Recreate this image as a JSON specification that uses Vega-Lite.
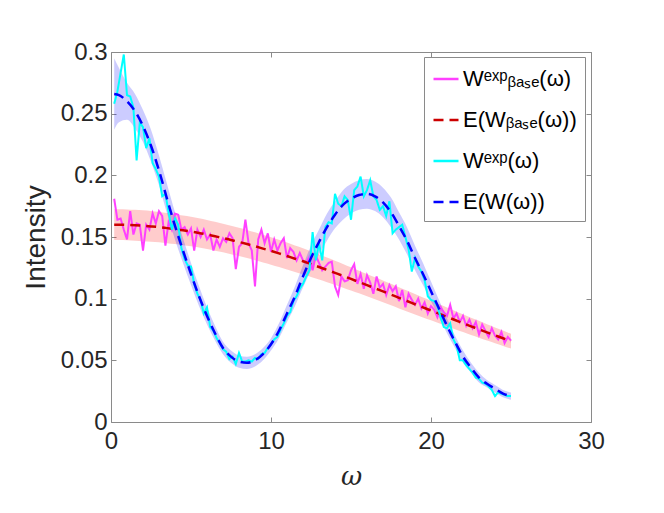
{
  "$schema": "https://vega.github.io/schema/vega-lite/v6.json",
  "width": 480,
  "height": 370,
  "autosize": {"type": "none"},
  "padding": {"left": 111, "top": 52, "right": 73, "bottom": 91},
  "background": "white",
  "config": {
    "font": "Liberation Sans",
    "view": {"stroke": null},
    "axis": {
      "grid": false,
      "domainColor": "#8a8a8a",
      "tickColor": "#8a8a8a",
      "labelColor": "#262626",
      "titleColor": "#262626",
      "labelFont": "Liberation Sans",
      "titleFont": "Liberation Sans",
      "labelFontSize": 24,
      "titleFontSize": 28,
      "titleFontWeight": "normal",
      "tickSize": -5,
      "labelFlush": false,
      "labelOverlap": false
    },
    "legend": {
      "orient": "none",
      "legendX": 313,
      "legendY": 5,
      "strokeColor": "#8a8a8a",
      "fillColor": "white",
      "padding": 8,
      "symbolType": "stroke",
      "symbolSize": 625,
      "symbolStrokeWidth": 2.5,
      "labelFont": "Liberation Sans",
      "labelFontSize": 22,
      "labelColor": "#000000",
      "rowPadding": 16,
      "labelOffset": 3,
      "labelLimit": 300
    }
  },
  "datasets": {
    "raw": [
      {"w":0.2,"base":0.181,"wexp":0.258},{"w":0.4,"base":0.164,"wexp":0.268},{"w":0.6,"base":0.165,"wexp":0.283},{"w":0.8,"base":0.156,"wexp":0.298},{"w":1.0,"base":0.148,"wexp":0.265},
      {"w":1.2,"base":0.171,"wexp":0.264},{"w":1.4,"base":0.152,"wexp":0.255},{"w":1.6,"base":0.161,"wexp":0.212},{"w":1.8,"base":0.160,"wexp":0.243},{"w":2.0,"base":0.139,"wexp":0.239},
      {"w":2.2,"base":0.160,"wexp":0.222},{"w":2.4,"base":0.156,"wexp":0.230},{"w":2.6,"base":0.169,"wexp":0.210},{"w":2.8,"base":0.161,"wexp":0.205},{"w":3.0,"base":0.171,"wexp":0.199},
      {"w":3.2,"base":0.167,"wexp":0.183},{"w":3.4,"base":0.143,"wexp":0.185},{"w":3.6,"base":0.162,"wexp":0.170},{"w":3.8,"base":0.156,"wexp":0.156},{"w":4.0,"base":0.169,"wexp":0.165},
      {"w":4.2,"base":0.168,"wexp":0.160},{"w":4.4,"base":0.156,"wexp":0.141},{"w":4.6,"base":0.158,"wexp":0.132},{"w":4.8,"base":0.152,"wexp":0.127},{"w":5.0,"base":0.157,"wexp":0.126},
      {"w":5.2,"base":0.139,"wexp":0.112},{"w":5.4,"base":0.156,"wexp":0.104},{"w":5.6,"base":0.150,"wexp":0.099},{"w":5.8,"base":0.156,"wexp":0.088},{"w":6.0,"base":0.148,"wexp":0.093},
      {"w":6.2,"base":0.152,"wexp":0.077},{"w":6.4,"base":0.139,"wexp":0.074},{"w":6.6,"base":0.148,"wexp":0.068},{"w":6.8,"base":0.142,"wexp":0.064},{"w":7.0,"base":0.149,"wexp":0.059},
      {"w":7.2,"base":0.146,"wexp":0.057},{"w":7.4,"base":0.153,"wexp":0.051},{"w":7.6,"base":0.149,"wexp":0.053},{"w":7.8,"base":0.124,"wexp":0.047},{"w":8.0,"base":0.142,"wexp":0.056},
      {"w":8.2,"base":0.145,"wexp":0.049},{"w":8.4,"base":0.164,"wexp":0.049},{"w":8.6,"base":0.145,"wexp":0.050},{"w":8.8,"base":0.139,"wexp":0.049},{"w":9.0,"base":0.110,"wexp":0.052},
      {"w":9.2,"base":0.148,"wexp":0.051},{"w":9.4,"base":0.156,"wexp":0.055},{"w":9.6,"base":0.145,"wexp":0.056},{"w":9.8,"base":0.153,"wexp":0.060},{"w":10.0,"base":0.138,"wexp":0.063},
      {"w":10.2,"base":0.148,"wexp":0.067},{"w":10.4,"base":0.139,"wexp":0.069},{"w":10.6,"base":0.145,"wexp":0.075},{"w":10.8,"base":0.149,"wexp":0.080},{"w":11.0,"base":0.133,"wexp":0.086},
      {"w":11.2,"base":0.141,"wexp":0.089},{"w":11.4,"base":0.138,"wexp":0.098},{"w":11.6,"base":0.131,"wexp":0.102},{"w":11.8,"base":0.137,"wexp":0.108},{"w":12.0,"base":0.131,"wexp":0.112},
      {"w":12.2,"base":0.129,"wexp":0.118},{"w":12.4,"base":0.134,"wexp":0.123},{"w":12.6,"base":0.123,"wexp":0.154},{"w":12.8,"base":0.135,"wexp":0.131},{"w":13.0,"base":0.129,"wexp":0.145},
      {"w":13.2,"base":0.123,"wexp":0.131},{"w":13.4,"base":0.126,"wexp":0.158},{"w":13.6,"base":0.129,"wexp":0.162},{"w":13.8,"base":0.130,"wexp":0.161},{"w":14.0,"base":0.110,"wexp":0.185},
      {"w":14.2,"base":0.103,"wexp":0.177},{"w":14.4,"base":0.118,"wexp":0.175},{"w":14.6,"base":0.114,"wexp":0.183},{"w":14.8,"base":0.115,"wexp":0.180},{"w":15.0,"base":0.123,"wexp":0.164},
      {"w":15.2,"base":0.128,"wexp":0.188},{"w":15.4,"base":0.112,"wexp":0.191},{"w":15.6,"base":0.120,"wexp":0.199},{"w":15.8,"base":0.108,"wexp":0.183},{"w":16.0,"base":0.119,"wexp":0.188},
      {"w":16.2,"base":0.113,"wexp":0.196},{"w":16.4,"base":0.104,"wexp":0.183},{"w":16.6,"base":0.118,"wexp":0.180},{"w":16.8,"base":0.109,"wexp":0.172},{"w":17.0,"base":0.112,"wexp":0.175},
      {"w":17.2,"base":0.103,"wexp":0.167},{"w":17.4,"base":0.111,"wexp":0.179},{"w":17.6,"base":0.106,"wexp":0.153},{"w":17.8,"base":0.110,"wexp":0.156},{"w":18.0,"base":0.098,"wexp":0.158},
      {"w":18.2,"base":0.107,"wexp":0.160},{"w":18.4,"base":0.093,"wexp":0.150},{"w":18.6,"base":0.104,"wexp":0.140},{"w":18.8,"base":0.099,"wexp":0.122},{"w":19.0,"base":0.095,"wexp":0.133},
      {"w":19.2,"base":0.100,"wexp":0.126},{"w":19.4,"base":0.092,"wexp":0.122},{"w":19.6,"base":0.097,"wexp":0.115},{"w":19.8,"base":0.088,"wexp":0.102},{"w":20.0,"base":0.094,"wexp":0.099},
      {"w":20.2,"base":0.091,"wexp":0.098},{"w":20.4,"base":0.085,"wexp":0.094},{"w":20.6,"base":0.093,"wexp":0.085},{"w":20.8,"base":0.089,"wexp":0.077},{"w":21.0,"base":0.086,"wexp":0.076},
      {"w":21.2,"base":0.095,"wexp":0.080},{"w":21.4,"base":0.084,"wexp":0.067},{"w":21.6,"base":0.088,"wexp":0.062},{"w":21.8,"base":0.081,"wexp":0.050},{"w":22.0,"base":0.086,"wexp":0.050},
      {"w":22.2,"base":0.078,"wexp":0.046},{"w":22.4,"base":0.083,"wexp":0.043},{"w":22.6,"base":0.076,"wexp":0.040},{"w":22.8,"base":0.081,"wexp":0.036},{"w":23.0,"base":0.071,"wexp":0.035},
      {"w":23.2,"base":0.079,"wexp":0.032},{"w":23.4,"base":0.074,"wexp":0.031},{"w":23.6,"base":0.069,"wexp":0.029},{"w":23.8,"base":0.076,"wexp":0.026},{"w":24.0,"base":0.070,"wexp":0.021},
      {"w":24.2,"base":0.067,"wexp":0.024},{"w":24.4,"base":0.073,"wexp":0.023},{"w":24.6,"base":0.064,"wexp":0.022},{"w":24.8,"base":0.069,"wexp":0.021},{"w":25.0,"base":0.066,"wexp":0.021}
    ],
    "mean": [
      {"w":0.2,"ebase":0.1600,"blo":0.1475,"bhi":0.1725,"ew":0.266,"wlo":0.237,"whi":0.295},
      {"w":0.5,"ebase":0.1600,"blo":0.1475,"bhi":0.1725,"ew":0.265,"wlo":0.243,"whi":0.287},
      {"w":1.0,"ebase":0.1598,"blo":0.1473,"bhi":0.1723,"ew":0.260,"wlo":0.245,"whi":0.275},
      {"w":1.5,"ebase":0.1595,"blo":0.1470,"bhi":0.1720,"ew":0.252,"wlo":0.238,"whi":0.266},
      {"w":2.0,"ebase":0.1591,"blo":0.1466,"bhi":0.1716,"ew":0.240,"wlo":0.227,"whi":0.253},
      {"w":2.5,"ebase":0.1586,"blo":0.1462,"bhi":0.1710,"ew":0.224,"wlo":0.211,"whi":0.237},
      {"w":3.0,"ebase":0.1580,"blo":0.1457,"bhi":0.1703,"ew":0.204,"wlo":0.192,"whi":0.216},
      {"w":3.5,"ebase":0.1572,"blo":0.1450,"bhi":0.1694,"ew":0.181,"wlo":0.169,"whi":0.193},
      {"w":4.0,"ebase":0.1564,"blo":0.1443,"bhi":0.1685,"ew":0.159,"wlo":0.148,"whi":0.170},
      {"w":4.5,"ebase":0.1554,"blo":0.1434,"bhi":0.1674,"ew":0.139,"wlo":0.129,"whi":0.149},
      {"w":5.0,"ebase":0.1544,"blo":0.1424,"bhi":0.1664,"ew":0.120,"wlo":0.111,"whi":0.129},
      {"w":5.5,"ebase":0.1533,"blo":0.1414,"bhi":0.1652,"ew":0.102,"wlo":0.094,"whi":0.110},
      {"w":6.0,"ebase":0.1520,"blo":0.1402,"bhi":0.1638,"ew":0.086,"wlo":0.079,"whi":0.093},
      {"w":6.5,"ebase":0.1506,"blo":0.1389,"bhi":0.1623,"ew":0.072,"wlo":0.066,"whi":0.078},
      {"w":7.0,"ebase":0.1492,"blo":0.1376,"bhi":0.1608,"ew":0.060,"wlo":0.055,"whi":0.065},
      {"w":7.5,"ebase":0.1476,"blo":0.1361,"bhi":0.1591,"ew":0.053,"wlo":0.048,"whi":0.058},
      {"w":8.0,"ebase":0.1460,"blo":0.1345,"bhi":0.1575,"ew":0.049,"wlo":0.044,"whi":0.054},
      {"w":8.5,"ebase":0.1443,"blo":0.1329,"bhi":0.1557,"ew":0.048,"wlo":0.043,"whi":0.053},
      {"w":9.0,"ebase":0.1425,"blo":0.1312,"bhi":0.1538,"ew":0.050,"wlo":0.045,"whi":0.055},
      {"w":9.5,"ebase":0.1406,"blo":0.1294,"bhi":0.1518,"ew":0.055,"wlo":0.050,"whi":0.060},
      {"w":10.0,"ebase":0.1387,"blo":0.1276,"bhi":0.1498,"ew":0.063,"wlo":0.058,"whi":0.068},
      {"w":10.5,"ebase":0.1367,"blo":0.1257,"bhi":0.1477,"ew":0.074,"wlo":0.068,"whi":0.080},
      {"w":11.0,"ebase":0.1346,"blo":0.1237,"bhi":0.1455,"ew":0.088,"wlo":0.081,"whi":0.095},
      {"w":11.5,"ebase":0.1324,"blo":0.1217,"bhi":0.1431,"ew":0.102,"wlo":0.094,"whi":0.110},
      {"w":12.0,"ebase":0.1303,"blo":0.1197,"bhi":0.1409,"ew":0.118,"wlo":0.109,"whi":0.127},
      {"w":12.5,"ebase":0.1280,"blo":0.1176,"bhi":0.1384,"ew":0.133,"wlo":0.123,"whi":0.143},
      {"w":13.0,"ebase":0.1257,"blo":0.1155,"bhi":0.1359,"ew":0.146,"wlo":0.136,"whi":0.156},
      {"w":13.5,"ebase":0.1233,"blo":0.1133,"bhi":0.1333,"ew":0.158,"wlo":0.147,"whi":0.169},
      {"w":14.0,"ebase":0.1209,"blo":0.1111,"bhi":0.1307,"ew":0.168,"wlo":0.157,"whi":0.179},
      {"w":14.5,"ebase":0.1185,"blo":0.1089,"bhi":0.1281,"ew":0.176,"wlo":0.164,"whi":0.188},
      {"w":15.0,"ebase":0.1160,"blo":0.1066,"bhi":0.1254,"ew":0.181,"wlo":0.169,"whi":0.193},
      {"w":15.5,"ebase":0.1135,"blo":0.1043,"bhi":0.1227,"ew":0.184,"wlo":0.172,"whi":0.196},
      {"w":16.0,"ebase":0.1110,"blo":0.1020,"bhi":0.1200,"ew":0.185,"wlo":0.173,"whi":0.197},
      {"w":16.5,"ebase":0.1084,"blo":0.0995,"bhi":0.1173,"ew":0.183,"wlo":0.171,"whi":0.195},
      {"w":17.0,"ebase":0.1059,"blo":0.0971,"bhi":0.1147,"ew":0.178,"wlo":0.166,"whi":0.190},
      {"w":17.5,"ebase":0.1033,"blo":0.0946,"bhi":0.1120,"ew":0.170,"wlo":0.158,"whi":0.182},
      {"w":18.0,"ebase":0.1007,"blo":0.0921,"bhi":0.1093,"ew":0.159,"wlo":0.148,"whi":0.170},
      {"w":18.5,"ebase":0.0981,"blo":0.0896,"bhi":0.1066,"ew":0.147,"wlo":0.136,"whi":0.158},
      {"w":19.0,"ebase":0.0955,"blo":0.0872,"bhi":0.1038,"ew":0.133,"wlo":0.123,"whi":0.143},
      {"w":19.5,"ebase":0.0929,"blo":0.0848,"bhi":0.1010,"ew":0.120,"wlo":0.111,"whi":0.129},
      {"w":20.0,"ebase":0.0904,"blo":0.0824,"bhi":0.0984,"ew":0.106,"wlo":0.098,"whi":0.114},
      {"w":20.5,"ebase":0.0878,"blo":0.0800,"bhi":0.0956,"ew":0.092,"wlo":0.085,"whi":0.099},
      {"w":21.0,"ebase":0.0852,"blo":0.0776,"bhi":0.0928,"ew":0.078,"wlo":0.072,"whi":0.084},
      {"w":21.5,"ebase":0.0827,"blo":0.0753,"bhi":0.0901,"ew":0.065,"wlo":0.060,"whi":0.070},
      {"w":22.0,"ebase":0.0801,"blo":0.0729,"bhi":0.0873,"ew":0.053,"wlo":0.048,"whi":0.058},
      {"w":22.5,"ebase":0.0776,"blo":0.0706,"bhi":0.0846,"ew":0.044,"wlo":0.040,"whi":0.048},
      {"w":23.0,"ebase":0.0752,"blo":0.0684,"bhi":0.0820,"ew":0.036,"wlo":0.032,"whi":0.040},
      {"w":23.5,"ebase":0.0727,"blo":0.0661,"bhi":0.0793,"ew":0.031,"wlo":0.028,"whi":0.034},
      {"w":24.0,"ebase":0.0703,"blo":0.0639,"bhi":0.0767,"ew":0.027,"wlo":0.024,"whi":0.030},
      {"w":24.5,"ebase":0.0679,"blo":0.0617,"bhi":0.0741,"ew":0.023,"wlo":0.020,"whi":0.026},
      {"w":25.0,"ebase":0.0655,"blo":0.0595,"bhi":0.0715,"ew":0.021,"wlo":0.018,"whi":0.024}
    ]
  },
  "resolve": {"axis": {"x": "independent", "y": "independent"}},
  "layer": [
    {
      "data": {"name": "mean"},
      "mark": {"type": "area", "color": "#ff0000", "opacity": 0.2, "interpolate": "monotone"},
      "encoding": {
        "x": {"field": "w", "type": "quantitative", "scale": {"domain": [0, 30], "nice": false},
              "axis": {"orient": "bottom", "values": [0, 10, 20, 30], "title": "ω", "titleFont": "DejaVu Serif", "titleFontStyle": "italic", "titleFontSize": 26, "labelPadding": 12, "titlePadding": 10}},
        "y": {"field": "blo", "type": "quantitative", "scale": {"domain": [0, 0.3], "nice": false},
              "axis": {"orient": "left", "values": [0, 0.05, 0.1, 0.15, 0.2, 0.25, 0.3], "format": "~g", "title": "Intensity", "labelPadding": 9, "titlePadding": 10}},
        "y2": {"field": "bhi"}
      }
    },
    {
      "data": {"name": "mean"},
      "mark": {"type": "area", "color": "#0000ff", "opacity": 0.2, "interpolate": "monotone"},
      "encoding": {
        "x": {"field": "w", "type": "quantitative", "axis": {"orient": "top", "values": [0, 10, 20, 30], "labels": false, "title": null}},
        "y": {"field": "wlo", "type": "quantitative", "axis": {"orient": "right", "values": [0, 0.05, 0.1, 0.15, 0.2, 0.25, 0.3], "labels": false, "title": null}},
        "y2": {"field": "whi"}
      }
    },
    {
      "data": {"name": "raw"},
      "mark": {"type": "line", "strokeWidth": 2},
      "encoding": {
        "x": {"field": "w", "type": "quantitative", "axis": null},
        "y": {"field": "base", "type": "quantitative", "axis": null},
        "color": {"datum": "base_exp", "type": "nominal",
                  "scale": {"domain": ["base_exp", "base_mean", "w_exp", "w_mean"], "range": ["#ff40ff", "#cc0000", "#00ffff", "#0000ff"]},
                  "legend": {"title": null, "labelExpr": "datum.label == 'base_exp' ? 'Wᵉˣᵖᵦₐₛₑ(ω)' : datum.label == 'base_mean' ? 'E(Wᵦₐₛₑ(ω))' : datum.label == 'w_exp' ? 'Wᵉˣᵖ(ω)' : 'E(W(ω))'"}},
        "strokeDash": {"datum": "base_exp", "type": "nominal",
                       "scale": {"domain": ["base_exp", "base_mean", "w_exp", "w_mean"], "range": [[1, 0], [10, 6], [1, 0], [10, 6]]},
                       "legend": {"title": null, "labelExpr": "datum.label == 'base_exp' ? 'Wᵉˣᵖᵦₐₛₑ(ω)' : datum.label == 'base_mean' ? 'E(Wᵦₐₛₑ(ω))' : datum.label == 'w_exp' ? 'Wᵉˣᵖ(ω)' : 'E(W(ω))'"}}
      }
    },
    {
      "data": {"name": "mean"},
      "mark": {"type": "line", "strokeWidth": 2.5, "interpolate": "monotone"},
      "encoding": {
        "x": {"field": "w", "type": "quantitative", "axis": null},
        "y": {"field": "ebase", "type": "quantitative", "axis": null},
        "color": {"datum": "base_mean", "type": "nominal"},
        "strokeDash": {"datum": "base_mean", "type": "nominal"}
      }
    },
    {
      "data": {"name": "raw"},
      "mark": {"type": "line", "strokeWidth": 2},
      "encoding": {
        "x": {"field": "w", "type": "quantitative", "axis": null},
        "y": {"field": "wexp", "type": "quantitative", "axis": null},
        "color": {"datum": "w_exp", "type": "nominal"},
        "strokeDash": {"datum": "w_exp", "type": "nominal"}
      }
    },
    {
      "data": {"name": "mean"},
      "mark": {"type": "line", "strokeWidth": 2.5, "interpolate": "monotone"},
      "encoding": {
        "x": {"field": "w", "type": "quantitative", "axis": null},
        "y": {"field": "ew", "type": "quantitative", "axis": null},
        "color": {"datum": "w_mean", "type": "nominal"},
        "strokeDash": {"datum": "w_mean", "type": "nominal"}
      }
    }
  ]
}
